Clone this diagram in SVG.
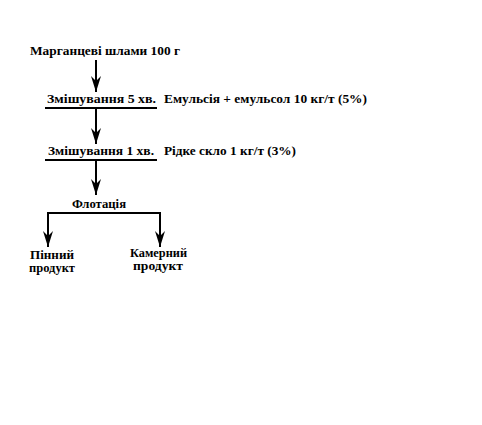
<svg xmlns="http://www.w3.org/2000/svg" width="482" height="425" viewBox="0 0 482 425">
<style>
text{font-family:"Liberation Serif","Times New Roman",serif;font-weight:bold;font-size:13px;fill:#000}
text.sm{font-size:12px}
.ln{stroke:#000;stroke-width:2;fill:none}
</style>
<defs>
<marker id="ah" markerUnits="userSpaceOnUse" markerWidth="18" markerHeight="12" refX="16" refY="6" orient="auto-start-reverse" viewBox="0 0 18 12">
<path d="M0,1 L5,6 L0,11 L16,6 Z" fill="#000"/>
</marker>
</defs>
<rect width="482" height="425" fill="#fff"/>
<g id="connectors">
<line class="ln" x1="96" y1="60" x2="96" y2="92" marker-end="url(#ah)"/>
<line class="ln" x1="96" y1="109" x2="96" y2="144" marker-end="url(#ah)"/>
<line class="ln" x1="96" y1="161" x2="96" y2="195" marker-end="url(#ah)"/>
<path class="ln" d="M48,247 V213 H160 V247" marker-start="url(#ah)" marker-end="url(#ah)"/>
</g>
<g id="n1"><text x="30" y="55" textLength="150" lengthAdjust="spacingAndGlyphs">Марганцеві шлами 100 г</text></g>
<g id="n2"><text x="47" y="103" textLength="109" lengthAdjust="spacingAndGlyphs">Змішування 5 хв.</text><line class="ln" x1="45" y1="108" x2="157" y2="108"/></g>
<g id="n2r"><text x="164" y="103" textLength="203" lengthAdjust="spacingAndGlyphs">Емульсія + емульсол 10 кг/т (5%)</text></g>
<g id="n3"><text x="48" y="155" textLength="106" lengthAdjust="spacingAndGlyphs">Змішування 1 хв.</text><line class="ln" x1="45" y1="160" x2="157" y2="160"/></g>
<g id="n3r"><text x="164" y="155" textLength="132" lengthAdjust="spacingAndGlyphs">Рідке скло 1 кг/т (3%)</text></g>
<g id="n4"><text x="72" y="208" textLength="54" lengthAdjust="spacingAndGlyphs">Флотація</text></g>
<g id="n5"><text class="sm" x="30" y="259" textLength="44" lengthAdjust="spacingAndGlyphs">Пінний</text><text class="sm" x="29" y="272" textLength="46" lengthAdjust="spacingAndGlyphs">продукт</text></g>
<g id="n6"><text class="sm" x="130" y="257" textLength="57" lengthAdjust="spacingAndGlyphs">Камерний</text><text class="sm" x="133" y="270" textLength="50" lengthAdjust="spacingAndGlyphs">продукт</text></g>
</svg>
